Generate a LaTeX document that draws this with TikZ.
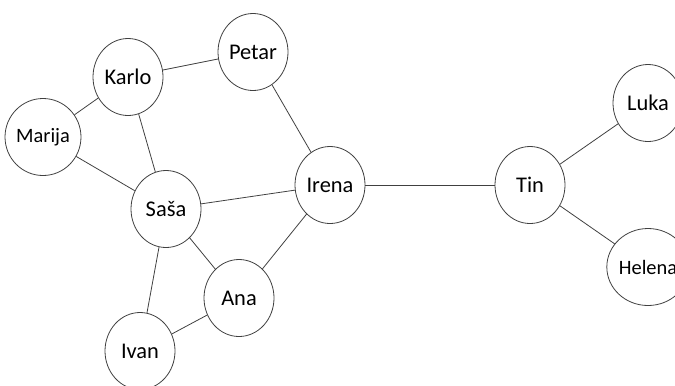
\documentclass[tikz,border=0pt]{standalone}
\usepackage{fontspec}
\setmainfont{Carlito}
\usepackage{tikz}
\usetikzlibrary{shapes}

\begin{document}
\begin{tikzpicture}[x=1bp,y=-1bp,
                    thick,line width=0.8pt,
                    person/.style={ellipse,draw=black!75,inner sep=0pt,
                                   minimum width=70bp,minimum height=77bp,
                                   font=\fontsize{22.5}{26}\selectfont},
                    small/.style={font=\fontsize{20.5}{24}\selectfont}]
\useasboundingbox (0,0) rectangle (675,385);
\node[person] (karlo)  at (128, 77)  {Karlo};
\node[person] (petar)  at (253, 52)  {Petar};
\node[person,small] (marija) at (43, 137) {Marija};
\node[person] (sasa)   at (166, 209) {Saša};
\node[person] (irena)  at (330, 185) {Irena};
\node[person] (ana)    at (239, 298) {Ana};
\node[person] (ivan)   at (140, 351) {Ivan};
\node[person] (tin)    at (530, 185) {Tin};
\node[person] (luka)   at (648, 103) {Luka};
\node[person,small] (helena) at (648, 267) {Helena};
%
\path[draw=black!75]
  (karlo) edge (petar)
  (karlo) edge (marija)
  (karlo) edge (sasa)
  (marija) edge (sasa)
  (petar) edge (irena)
  (sasa) edge (irena)
  (sasa) edge (ana)
  (sasa) edge (ivan)
  (ana) edge (ivan)
  (ana) edge (irena)
  (irena) edge (tin)
  (tin) edge (luka)
  (tin) edge (helena)
  ;
\end{tikzpicture}
\end{document}
